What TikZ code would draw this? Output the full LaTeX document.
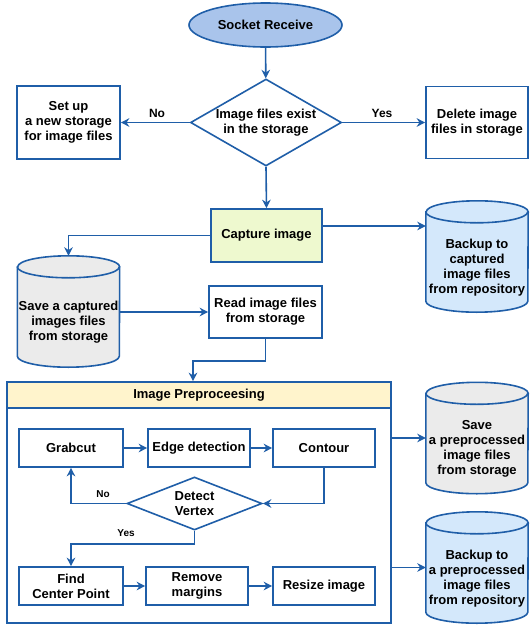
\documentclass[tikz,border=0pt]{standalone}
\usepackage{fontspec}
\setmainfont{Liberation Sans}
\usetikzlibrary{shapes.geometric,arrows.meta}

\definecolor{lineblue}{HTML}{1F5EA8}
\definecolor{ovalfill}{HTML}{A9C4EB}
\definecolor{greenfill}{HTML}{EEF9CF}
\definecolor{bluefill}{HTML}{D4E8FB}
\definecolor{greyfill}{HTML}{EBEBEB}
\definecolor{headfill}{HTML}{FFF4CC}

% cylinder drawn round a body node; the top cap sits above the node
\newcommand\drawcylinder[2]{%
  \filldraw[draw=lineblue, line width=1.6pt, fill=#2]
    ([yshift=11pt]#1.north west) -- ([yshift=11pt]#1.south west)
    arc[start angle=180, end angle=360, x radius=51pt, y radius=11pt]
    -- ([yshift=11pt]#1.north east)
    arc[start angle=0, end angle=180, x radius=51pt, y radius=11pt] -- cycle;
  \draw[draw=lineblue, line width=1.6pt]
    ([yshift=11pt]#1.north west)
    arc[start angle=180, end angle=360, x radius=51pt, y radius=11pt];
}

\begin{document}
\begin{tikzpicture}[x=1pt, y=-1pt,
  txt/.style={font=\bfseries\fontsize{13}{15}\selectfont, align=center, text=black},
  box/.style={txt, rectangle, draw=lineblue, line width=1.6pt, fill=white, inner sep=0pt},
  oval/.style={txt, ellipse, draw=lineblue, line width=1.6pt, fill=ovalfill, inner sep=0pt,
    minimum width=153pt, minimum height=44pt},
  decision/.style={txt, diamond, draw=lineblue, line width=1.6pt, fill=white, inner sep=0pt},
  cylbody/.style={txt, rectangle, inner sep=0pt, minimum width=102pt, minimum height=89pt},
  arr/.style={draw=lineblue, line width=1.6pt, -{Stealth[length=8.5pt, width=8.5pt]}},
  lab/.style={font=\bfseries\fontsize{12}{14}\selectfont, text=black, inner sep=0pt},
  smalllab/.style={font=\bfseries\fontsize{10}{12}\selectfont, text=black, inner sep=0pt}
]
\useasboundingbox (0,0) rectangle (530,627);

% ---------- upper part ----------
\node[oval] (sock) at (265.5,25) {Socket Receive};
\node[decision, shape aspect=1.74, minimum width=151pt, minimum height=87pt]
  (dec1) at (266,122.5) {Image files exist\\in the storage};
\node[box, minimum width=103pt, minimum height=73pt] (setup) at (68.5,122.5)
  {Set up\\a new storage\\for image files};
\node[box, minimum width=102pt, minimum height=72pt] (del) at (477,122.5)
  {Delete image\\files in storage};
\node[box, fill=greenfill, minimum width=111pt, minimum height=53pt] (cap) at (266.5,235.5)
  {Capture image};
\node[box, minimum width=113pt, minimum height=52pt] (rd) at (265.5,312)
  {Read image files\\from storage};

% storage cylinders
\node[cylbody] (bk1) at (477,267.5) {};
\drawcylinder{bk1}{bluefill}
\node[cylbody] at (bk1) {Backup to\\captured\\image files\\from repository};

\node[cylbody] (sv1) at (68.5,322.5) {};
\drawcylinder{sv1}{greyfill}
\node[cylbody] at (sv1) {Save a captured\\images files\\from storage};

\node[cylbody] (sv2) at (477,449) {};
\drawcylinder{sv2}{greyfill}
\node[cylbody] at (sv2) {Save\\a preprocessed\\image files\\from storage};

\node[cylbody] (bk2) at (477,578.5) {};
\drawcylinder{bk2}{bluefill}
\node[cylbody] at (bk2) {Backup to\\a preprocessed\\image files\\from repository};

% ---------- preprocessing group ----------
\node[box, minimum width=384pt, minimum height=241pt] (pre) at (199,502.5) {};
\node[box, fill=headfill, minimum width=384pt, minimum height=26pt] (hdr) at (199,395)
  {Image Preproceesing};

\node[box, minimum width=104pt, minimum height=38pt] (gc) at (71,448) {Grabcut};
\node[box, minimum width=102pt, minimum height=38pt] (ed) at (199,448) {Edge detection};
\node[box, minimum width=102pt, minimum height=38pt] (ct) at (324,448) {Contour};
\node[decision, shape aspect=2.55, minimum width=135pt, minimum height=53pt]
  (dv) at (194.5,503.5) {Detect\\Vertex};
\node[box, minimum width=104pt, minimum height=38pt] (fc) at (71,586) {Find\\Center Point};
\node[box, minimum width=102pt, minimum height=38pt] (rm) at (197,586) {Remove\\margins};
\node[box, minimum width=102pt, minimum height=38pt] (rs) at (324,586) {Resize image};

% ---------- connectors ----------
\draw[arr] (sock) -- (dec1);
\draw[arr] (dec1.west) -- (setup.east);
\node[lab] at (157,113) {No};
\draw[arr] (dec1.east) -- (del.west);
\node[lab] at (382,113) {Yes};
\draw[arr] (dec1.south) -- (cap.north);

\coordinate (capout) at ([yshift=9.5pt]cap.east);
\draw[arr] (capout) -- (capout -| bk1.west);
\draw[arr] (cap.west) -| ([yshift=22pt]sv1.north);
\draw[arr] (sv1.east |- rd.west) -- (rd.west);

\coordinate (rdbend) at (193,361);
\draw[arr] (rd.south) |- (rdbend) -- (rdbend |- hdr.north);

\draw[arr] (gc) -- (ed);
\draw[arr] (ed) -- (ct);
\draw[arr] (ct.south) |- (dv.east);
\draw[arr] (dv.west) -| (gc.south);
\node[smalllab] at (103,494) {No};
\draw[arr] (dv.south) -- ++(0pt,-13pt) -| (fc.north);
\node[smalllab] at (126,533) {Yes};
\draw[arr] (fc) -- (rm);
\draw[arr] (rm) -- (rs);

\coordinate (preout1) at ([yshift=11pt]sv2.west -| pre.east);
\coordinate (preout2) at ([yshift=11pt]bk2.west -| pre.east);
\draw[arr] (preout1) -- (preout1 -| sv2.west);
\draw[arr] (preout2) -- (preout2 -| bk2.west);
\end{tikzpicture}
\end{document}
